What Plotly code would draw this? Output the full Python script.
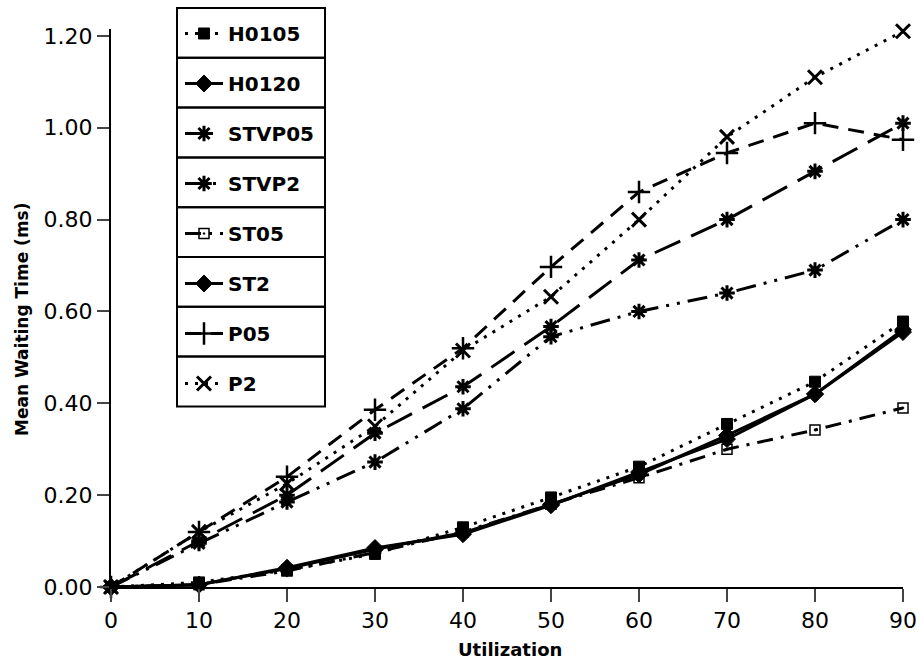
import plotly.graph_objects as go

# Utilization (%) on the x axis
utilization = [0, 10, 20, 30, 40, 50, 60, 70, 80, 90]

# Mean waiting time (ms) for each scheduling policy
h0105 = [0.00, 0.010, 0.037, 0.072, 0.130, 0.195, 0.262, 0.355, 0.447, 0.578]
h0120 = [0.00, 0.005, 0.040, 0.082, 0.118, 0.180, 0.245, 0.330, 0.420, 0.560]
stvp05 = [0.00, 0.100, 0.200, 0.335, 0.436, 0.567, 0.712, 0.800, 0.905, 1.010]
stvp2 = [0.00, 0.095, 0.185, 0.272, 0.388, 0.545, 0.600, 0.640, 0.690, 0.800]
st05 = [0.00, 0.005, 0.035, 0.075, 0.120, 0.180, 0.238, 0.300, 0.342, 0.390]
st2 = [0.00, 0.005, 0.042, 0.085, 0.115, 0.178, 0.250, 0.322, 0.420, 0.555]
p05 = [0.00, 0.120, 0.240, 0.386, 0.520, 0.697, 0.860, 0.945, 1.010, 0.974]
p2 = [0.00, 0.120, 0.225, 0.350, 0.515, 0.632, 0.800, 0.980, 1.110, 1.210]

y_ticks = [0.0, 0.2, 0.4, 0.6, 0.8, 1.0, 1.2]
x_ticks = [0, 10, 20, 30, 40, 50, 60, 70, 80, 90]

series = [
    ("H0105", h0105, "3px,7px", "square", 11, 1),
    ("H0120", h0120, "solid", "diamond", 13, 1),
    ("STVP05", stvp05, "28px,12px", "asterisk-open", 13, 3),
    ("STVP2", stvp2, "20px,8px,3px,8px,3px,8px", "asterisk-open", 13, 3),
    ("ST05", st05, "16px,8px,3px,8px", "square-open-dot", 10, 1.5),
    ("ST2", st2, "solid", "diamond", 13, 1),
    ("P05", p05, "16px,10px", "cross-thin-open", 16, 2.5),
    ("P2", p2, "3px,7px", "x-thin-open", 14, 3),
]

fig = go.Figure()
for i, (name, vals, dash, sym, size, mlw) in enumerate(series):
    fig.add_trace(go.Scatter(
        x=utilization, y=vals, name=name, mode="lines+markers",
        legendgroup=f"g{i}",
        line=dict(color="black", width=3, dash=dash),
        marker=dict(symbol=sym, size=size, color="black",
                    line=dict(color="black", width=mlw)),
        cliponaxis=False,
    ))

# Plot area edges in pixels, used to box each legend entry
L, R, T, B = 111, 903, 29, 587
W, H = R - L, B - T
y_top = 1.215


def px_x(v):
    return (v - L) / W


def px_y(v):
    return (B - v) / H


box_top = 8
box_h = 49.8
shapes = []
for k in range(len(series)):
    y0 = box_top + k * box_h
    shapes.append(dict(
        type="rect", xref="paper", yref="paper",
        x0=px_x(177), x1=px_x(325), y0=px_y(y0 + box_h), y1=px_y(y0),
        line=dict(color="black", width=2), fillcolor="rgba(0,0,0,0)",
    ))

fig.update_layout(
    width=922, height=662,
    margin=dict(l=L, r=922 - R, t=T, b=662 - B, autoexpand=False),
    paper_bgcolor="white", plot_bgcolor="white",
    font=dict(family="DejaVu Sans", color="black", size=22),
    showlegend=True,
    legend=dict(
        x=px_x(180), y=px_y(box_top + 6), xanchor="left", yanchor="top",
        traceorder="grouped", tracegroupgap=21, maxheight=640,
        font=dict(size=20, family="DejaVu Sans", weight=600),
        bgcolor="rgba(0,0,0,0)", borderwidth=0, itemwidth=38,
    ),
    shapes=shapes,
    annotations=[
        dict(text="<b>Mean Waiting Time (ms)</b>", textangle=-90,
             xref="paper", yref="paper", x=px_x(22), y=px_y(320),
             xanchor="center", yanchor="middle", showarrow=False,
             font=dict(size=17)),
        dict(text="<b>Utilization</b>",
             xref="paper", yref="paper", x=px_x(510), y=px_y(649),
             xanchor="center", yanchor="middle", showarrow=False,
             font=dict(size=18)),
    ],
    xaxis=dict(
        range=[0, 90], tickvals=x_ticks, ticks="outside", ticklen=13,
        tickwidth=2, showline=True, linecolor="black", linewidth=2,
        showgrid=False, zeroline=False, automargin=False,
    ),
    yaxis=dict(
        range=[0, y_top], tickvals=y_ticks, tickformat=".2f", ticks="outside",
        ticklen=12, tickwidth=2, showline=True, linecolor="black", linewidth=2,
        showgrid=False, zeroline=False, automargin=False,
    ),
)

fig.write_html("out.html")
